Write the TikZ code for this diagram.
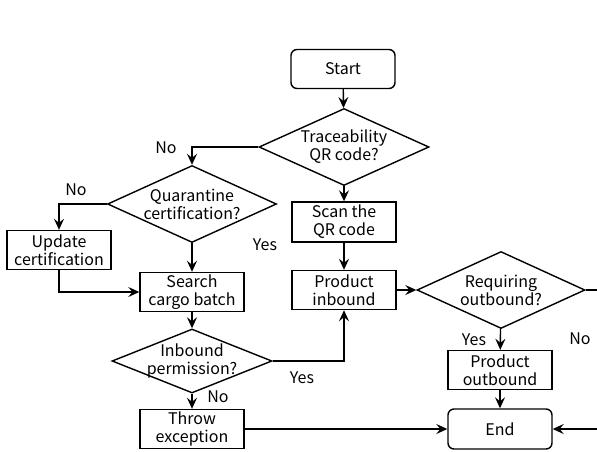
\documentclass[tikz,border=0pt]{standalone}
\usepackage{fontspec}
\setmainfont{Noto Sans CJK SC}
\usetikzlibrary{shapes.geometric,arrows.meta}
\tikzset{
  box/.style={draw, line width=1.4pt, minimum width=104pt, minimum height=39pt, align=center, inner sep=0pt},
  term/.style={box, rounded corners=6pt},
  dia/.style={draw, line width=1.4pt, diamond, inner sep=0pt},
  arr/.style={line width=1.4pt, -{Stealth[length=11pt,width=10pt,inset=4pt]}},
  lbl/.style={inner sep=0pt}
}
\begin{document}
\begin{tikzpicture}[x=1pt,y=-1pt,font=\fontsize{16}{18}\selectfont]
\useasboundingbox (0,0) rectangle (597,451);
\node[term] (start) at (343,69) {Start};
\node[dia, minimum width=170pt, minimum height=77pt, label={[align=center]center:Traceability\\QR code?}] (trace) at (344,147) {};
\node[box, minimum height=40pt] (scan) at (344,222) {Scan the\\QR code};
\node[box] (pin) at (344,290) {Product\\inbound};
\node[dia, minimum width=168pt, minimum height=77pt, label={[align=center]center:Requiring\\outbound?}] (req) at (501,290) {};
\node[box] (pout) at (500,370) {Product\\outbound};
\node[term, minimum height=40pt] (end) at (500,429) {End};
\node[dia, minimum width=169pt, minimum height=77pt, label={[align=center]center:Quarantine\\certification?}] (quar) at (192,204) {};
\node[box] (upd) at (59,250) {Update\\certification};
\node[box] (search) at (192,292) {Search\\cargo batch};
\node[dia, minimum width=160pt, minimum height=64pt, label={[align=center]center:Inbound\\permission?}] (inb) at (192,361) {};
\node[box] (throw) at (192,429) {Throw\\exception};
\coordinate (rc) at (615,429);

\draw[arr] (start) -- (trace);
\draw[arr] (trace.west) -| (quar.north);
\draw[arr] (trace) -- (scan);
\draw[arr] (scan) -- (pin);
\draw[arr] (quar.west) -| (upd.north);
\draw[arr] (quar) -- (search);
\draw[arr] (upd.south) |- (search.west);
\draw[arr] (search) -- (inb);
\draw[arr] (inb.east) -| (pin.south);
\draw[arr] (inb) -- (throw);
\draw[arr] (throw) -- (end);
\draw[arr] (pin) -- (req);
\draw[arr] (req) -- (pout);
\draw[arr] (req.east) -| (rc) -- (end.east);
\draw[arr] (pout) -- (end);

\node[lbl] (l1) at (166,148) {No};
\node[lbl] (l2) at (76,190) {No};
\node[lbl] (l3) at (265,245) {Yes};
\node[lbl] (l4) at (302,378) {Yes};
\node[lbl] (l5) at (218,397) {No};
\node[lbl] (l6) at (474,340) {Yes};
\node[lbl] (l7) at (580,339) {No};
\end{tikzpicture}
\end{document}
